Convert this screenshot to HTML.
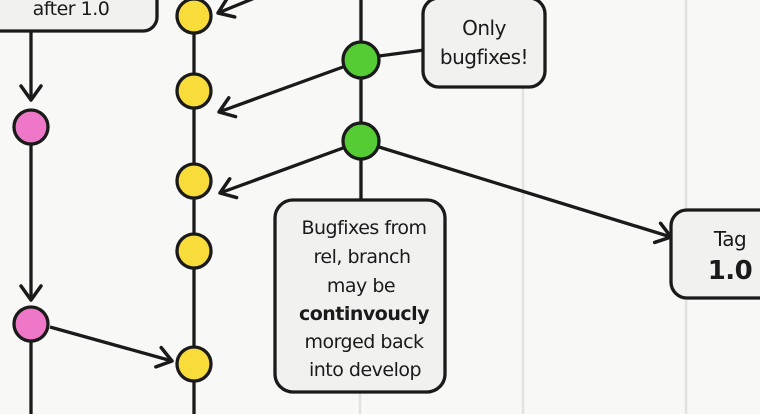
<!DOCTYPE html>
<html><head><style>
html,body{margin:0;padding:0;background:#f8f8f6;}
svg{display:block}
text{font-family:"DejaVu Sans","Liberation Sans",sans-serif;fill:#1a1a1a}
</style></head><body>
<svg width="760" height="414" viewBox="0 0 760 414" xmlns="http://www.w3.org/2000/svg">
<defs>
<marker id="b" markerWidth="24" markerHeight="24" refX="20" refY="12" orient="auto" markerUnits="userSpaceOnUse">
<path d="M6,2 L20,12 L6,22" fill="none" stroke="#1a1a1a" stroke-width="3.5" stroke-linecap="round" stroke-linejoin="round"/>
</marker>
</defs>
<g stroke="#e2e2e0" stroke-width="2.5">
<line x1="360" y1="0" x2="360" y2="414"/>
<line x1="523" y1="0" x2="523" y2="414"/>
<line x1="686" y1="0" x2="686" y2="414"/>
</g>
<g stroke="#1a1a1a" stroke-width="3.3" fill="none">
<line x1="194" y1="0" x2="194" y2="414"/>
<line x1="361" y1="0" x2="361" y2="200"/>
<line x1="31" y1="32" x2="31" y2="100" marker-end="url(#b)"/>
<line x1="31" y1="127" x2="31" y2="300" marker-end="url(#b)"/>
<line x1="31" y1="324" x2="31" y2="414"/>
<line x1="262" y1="-5" x2="218" y2="13" marker-end="url(#b)"/>
<line x1="343" y1="67" x2="219" y2="112" marker-end="url(#b)"/>
<line x1="343" y1="148" x2="220" y2="193" marker-end="url(#b)"/>
<line x1="379" y1="147" x2="671" y2="237" marker-end="url(#b)"/>
<line x1="50" y1="327" x2="172" y2="361" marker-end="url(#b)"/>
<line x1="379" y1="56" x2="424" y2="50"/>
</g>
<g stroke="#1a1a1a" stroke-width="3.3">
<rect x="-20" y="-20" width="177" height="51" rx="14" fill="#f1f1f0"/>
<rect x="423" y="-2" width="122" height="89" rx="16" fill="#f1f1f0"/>
<rect x="275" y="200" width="170" height="192" rx="18" fill="#f1f1f0"/>
<rect x="671" y="210" width="110" height="88" rx="16" fill="#f1f1f0"/>
<circle cx="31" cy="127" r="17" fill="#ee77c8"/>
<circle cx="31" cy="324" r="17" fill="#ee77c8"/>
<circle cx="194" cy="16" r="17" fill="#f7dc3a"/>
<circle cx="194" cy="91" r="17" fill="#f7dc3a"/>
<circle cx="194" cy="181" r="17" fill="#f7dc3a"/>
<circle cx="194" cy="251" r="17" fill="#f7dc3a"/>
<circle cx="194" cy="364" r="17" fill="#f7dc3a"/>
<circle cx="361" cy="60" r="18" fill="#55cc33"/>
<circle cx="361" cy="141" r="18" fill="#55cc33"/>
</g>
<g font-size="19" text-anchor="middle" letter-spacing="-0.5">
<text x="71" y="15">after 1.0</text>
<text x="484" y="35" font-size="20">Only</text>
<text x="484" y="64" font-size="20">bugfixes!</text>
<text x="364" y="234">Bugfixes from</text>
<text x="362" y="263">rel, branch</text>
<text x="361" y="292">may be</text>
<text x="364" y="320" font-weight="bold">continvoucly</text>
<text x="364" y="348">morged back</text>
<text x="365" y="376">into develop</text>
<text x="730" y="246" font-size="20">Tag</text>
<text x="730" y="279" font-size="26" font-weight="bold">1.0</text>
</g>
</svg>
</body></html>
